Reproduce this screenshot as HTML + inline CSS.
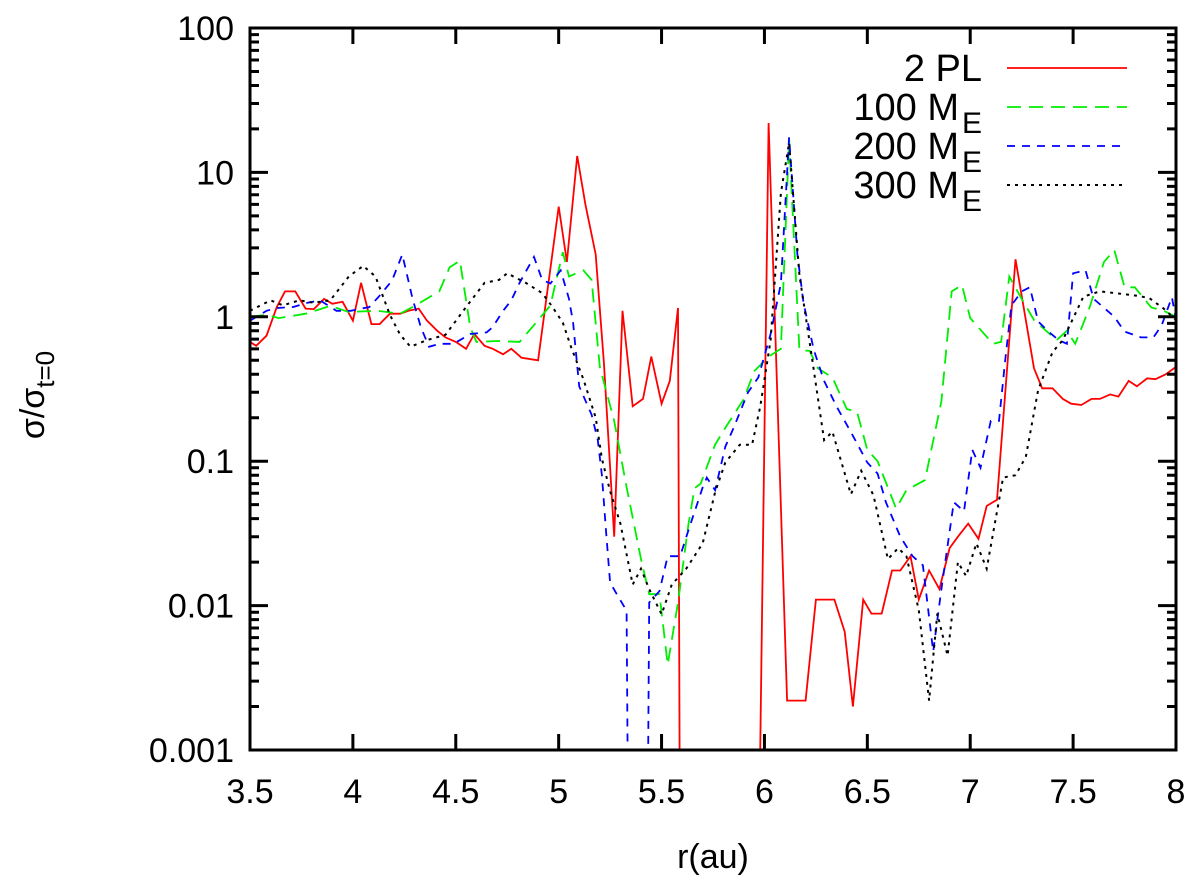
<!DOCTYPE html>
<html><head><meta charset="utf-8">
<style>
html,body{margin:0;padding:0;background:#fff;}
svg{display:block;font-family:"Liberation Sans",sans-serif;}
</style></head>
<body>
<svg id="chart" width="1200" height="888" viewBox="0 0 1200 888">
<defs><clipPath id="clip"><rect x="250" y="28" width="926" height="722"/></clipPath></defs>
<g id="series" clip-path="url(#clip)"></g>
<g id="axes"></g>
<g id="legend"></g>
<text x="713" y="868" font-size="34" text-anchor="middle">r(au)</text>
<text transform="translate(44,395) rotate(-90)" font-size="34" text-anchor="middle">σ/σ<tspan font-size="26" dy="10">t=0</tspan></text>
</svg>
<script>
const xTicks=[3.5,4,4.5,5,5.5,6,6.5,7,7.5,8];
const yTicks=[0.001,0.01,0.1,1,10,100];
const yTickLabels=["0.001","0.01","0.1","1","10","100"];
const seriesNames=["2 PL","100 M","200 M","300 M"];
const redX=[3.5,3.53,3.58,3.63,3.67,3.72,3.77,3.81,3.86,3.9,3.95,4.0,4.04,4.09,4.13,4.18,4.23,4.27,4.32,4.36,4.41,4.45,4.5,4.55,4.59,4.64,4.68,4.73,4.77,4.82,4.9,5.0,5.04,5.09,5.13,5.18,5.22,5.27,5.31,5.36,5.41,5.45,5.5,5.54,5.58,5.59,5.97,6.02,6.11,6.2,6.25,6.34,6.39,6.43,6.48,6.52,6.57,6.62,6.66,6.71,6.75,6.8,6.85,6.9,6.94,6.99,7.04,7.08,7.13,7.22,7.31,7.35,7.4,7.45,7.49,7.54,7.59,7.63,7.68,7.72,7.77,7.81,7.86,7.9,7.95,8.0];
const redY=[0.67,0.63,0.74,1.17,1.5,1.5,1.14,1.13,1.33,1.23,1.27,0.94,1.72,0.89,0.89,1.05,1.05,1.1,1.14,0.94,0.8,0.72,0.67,0.6,0.76,0.63,0.6,0.55,0.6,0.52,0.5,5.8,2.4,13,6,2.7,0.48,0.03,1.1,0.24,0.27,0.53,0.25,0.36,1.15,0.0001,0.0001,22,0.0022,0.0022,0.011,0.011,0.0066,0.002,0.011,0.0088,0.0088,0.0175,0.0175,0.022,0.011,0.0175,0.013,0.025,0.03,0.037,0.029,0.049,0.054,2.5,0.44,0.32,0.32,0.27,0.25,0.245,0.27,0.27,0.29,0.28,0.36,0.33,0.375,0.37,0.4,0.45];
const greenX=[3.5,3.58,3.64,3.77,3.89,3.98,4.12,4.23,4.29,4.42,4.47,4.52,4.57,4.6,4.7,4.81,4.89,4.96,5.02,5.05,5.12,5.16,5.2,5.27,5.33,5.4,5.44,5.49,5.53,5.58,5.63,5.66,5.69,5.76,5.81,5.9,5.95,6.02,6.08,6.12,6.17,6.22,6.26,6.33,6.4,6.45,6.5,6.55,6.64,6.69,6.78,6.86,6.91,6.96,7.0,7.11,7.15,7.19,7.25,7.31,7.42,7.47,7.51,7.58,7.65,7.7,7.75,7.8,7.88,7.94,8.0];
const greenY=[1.0,1.03,0.98,1.05,1.19,1.08,1.1,1.05,1.17,1.5,2.2,2.45,0.85,0.67,0.68,0.67,0.91,1.2,2.8,1.9,2.1,1.8,0.45,0.19,0.066,0.021,0.012,0.012,0.0039,0.0105,0.036,0.065,0.07,0.13,0.17,0.27,0.42,0.53,0.6,17,0.59,0.58,0.44,0.38,0.23,0.22,0.12,0.1,0.047,0.063,0.074,0.26,1.5,1.66,0.98,0.65,0.67,1.9,1.33,0.95,0.69,0.8,0.65,1.16,2.4,2.9,1.6,1.6,1.16,1.1,1.0];
const blueX=[3.5,3.58,3.63,3.71,3.78,3.84,3.92,3.99,4.08,4.13,4.19,4.24,4.29,4.33,4.37,4.42,4.49,4.57,4.65,4.68,4.73,4.77,4.81,4.88,4.92,4.96,5.01,5.05,5.07,5.1,5.16,5.19,5.21,5.23,5.25,5.33,5.34,5.43,5.44,5.49,5.53,5.59,5.63,5.7,5.72,5.76,5.81,5.85,5.92,5.97,6.03,6.08,6.12,6.16,6.19,6.24,6.29,6.35,6.43,6.5,6.55,6.59,6.66,6.72,6.77,6.82,6.86,6.92,6.97,7.01,7.05,7.1,7.14,7.17,7.2,7.25,7.29,7.33,7.38,7.43,7.47,7.5,7.56,7.6,7.7,7.75,7.83,7.89,7.93,7.98,8.0];
const blueY=[0.94,1.1,1.15,1.17,1.25,1.3,1.1,1.1,1.17,1.4,1.78,2.7,1.33,0.85,0.62,0.65,0.65,0.76,0.78,0.85,1.1,1.3,1.72,2.6,1.8,1.7,2.1,1.33,0.91,0.33,0.21,0.14,0.08,0.033,0.0144,0.0092,0.0001,0.0001,0.0105,0.0126,0.022,0.022,0.033,0.066,0.077,0.063,0.126,0.17,0.3,0.38,0.76,1.7,17.5,2.7,1.25,0.59,0.36,0.24,0.15,0.098,0.082,0.052,0.03,0.022,0.019,0.0048,0.013,0.052,0.045,0.12,0.09,0.19,0.19,0.5,1.2,1.5,1.6,0.93,0.79,0.69,0.65,2.0,2.1,1.33,1.0,0.79,0.72,0.72,0.87,1.37,0.95];
const blackX=[3.5,3.6,3.66,3.74,3.81,3.89,3.98,4.05,4.11,4.18,4.23,4.28,4.36,4.45,4.55,4.64,4.71,4.75,4.84,4.92,4.97,5.02,5.06,5.12,5.18,5.21,5.25,5.3,5.36,5.4,5.44,5.5,5.55,5.62,5.7,5.76,5.81,5.88,5.94,5.98,6.03,6.08,6.12,6.17,6.23,6.29,6.33,6.42,6.47,6.53,6.6,6.65,6.69,6.75,6.8,6.84,6.89,6.94,6.98,7.03,7.08,7.16,7.22,7.27,7.33,7.4,7.45,7.55,7.63,7.72,7.81,7.87,7.94,8.0];
const blackY=[1.1,1.3,1.2,1.3,1.25,1.3,1.9,2.25,1.9,1.03,0.75,0.62,0.69,0.75,1.17,1.72,1.8,2.0,1.72,1.46,1.17,0.91,0.62,0.37,0.2,0.104,0.062,0.037,0.014,0.018,0.013,0.0087,0.014,0.018,0.027,0.061,0.098,0.13,0.13,0.24,0.69,7.2,16,1.95,0.53,0.14,0.16,0.059,0.086,0.058,0.021,0.025,0.022,0.0093,0.0022,0.0088,0.0045,0.02,0.016,0.027,0.018,0.077,0.08,0.107,0.31,0.57,0.69,1.38,1.5,1.45,1.4,1.35,1.14,0.95];

const NS="http://www.w3.org/2000/svg";
const X0=250,X1=1176,Y0=28,Y1=750;
function xs(v){return X0+(v-3.5)/(8-3.5)*(X1-X0);}
function ys(v){return Y0+(2-Math.log10(v))/5*(Y1-Y0);}
function mk(tag,attrs,parent){const e=document.createElementNS(NS,tag);for(const k in attrs)e.setAttribute(k,attrs[k]);parent.appendChild(e);return e;}

const axes=document.getElementById('axes');
const frame=mk('rect',{x:X0,y:Y0,width:X1-X0,height:Y1-Y0,fill:'none',stroke:'#000','stroke-width':3},axes);


xTicks.forEach(t=>{
  const x=xs(t);
  const a=mk('path',{d:`M${x},${Y1}v-16M${x},${Y0}v16`,stroke:'#000','stroke-width':3},axes);
  
  
  const l=mk('text',{x:x,y:803,'font-size':34,'text-anchor':'middle'},axes);
  l.textContent=String(t);
  
  
});
yTicks.forEach((t,i)=>{
  const y=ys(t);
  const a=mk('path',{d:`M${X0},${y}h18M${X1},${y}h-18`,stroke:'#000','stroke-width':3},axes);
  
  
  const l=mk('text',{x:234,y:y+12,'font-size':34,'text-anchor':'end'},axes);
  l.textContent=yTickLabels[i];
  
  
  if(i<yTicks.length-1){for(let m=2;m<=9;m++){const ym=ys(t*m);
    const mt=mk('path',{d:`M${X0},${ym}h9M${X1},${ym}h-9`,stroke:'#000','stroke-width':3},axes);
    
    }}
});

const styles=[
 {c:'#ff0000',d:'',w:1.8,n:'series-2pl'},
 {c:'#00ee00',d:'14,8',w:1.8,n:'series-100me'},
 {c:'#0000ff',d:'8,7',w:1.8,n:'series-200me'},
 {c:'#000000',d:'3,5',w:2,n:'series-300me'}];
const data=[[redX,redY],[greenX,greenY],[blueX,blueY],[blackX,blackY]];
const sg=document.getElementById('series');
data.forEach((s,i)=>{
  const pts=s[0].map((x,j)=>xs(x).toFixed(1)+','+ys(s[1][j]).toFixed(1)).join(' ');
  const p=mk('polyline',{points:pts,fill:'none',stroke:styles[i].c,'stroke-width':styles[i].w,'stroke-dasharray':styles[i].d},sg);
  
  
});
const lg=document.getElementById('legend');
const ly=[68,107,146,185];
seriesNames.forEach((n,i)=>{
  const t=mk('text',{x:i==0?982:959,y:ly[i]+13,'font-size':38,'text-anchor':'end'},lg);
  t.textContent=n;
  
  
  if(i>0){const s=mk('text',{x:982,y:ly[i]+26,'font-size':30,'text-anchor':'end'},lg);
    s.textContent='E';
    
    }
  const l=mk('line',{x1:1007,x2:1127,y1:ly[i],y2:ly[i],stroke:styles[i].c,'stroke-width':styles[i].w,'stroke-dasharray':styles[i].d},lg);
  
  
});
</script>
</body></html>
